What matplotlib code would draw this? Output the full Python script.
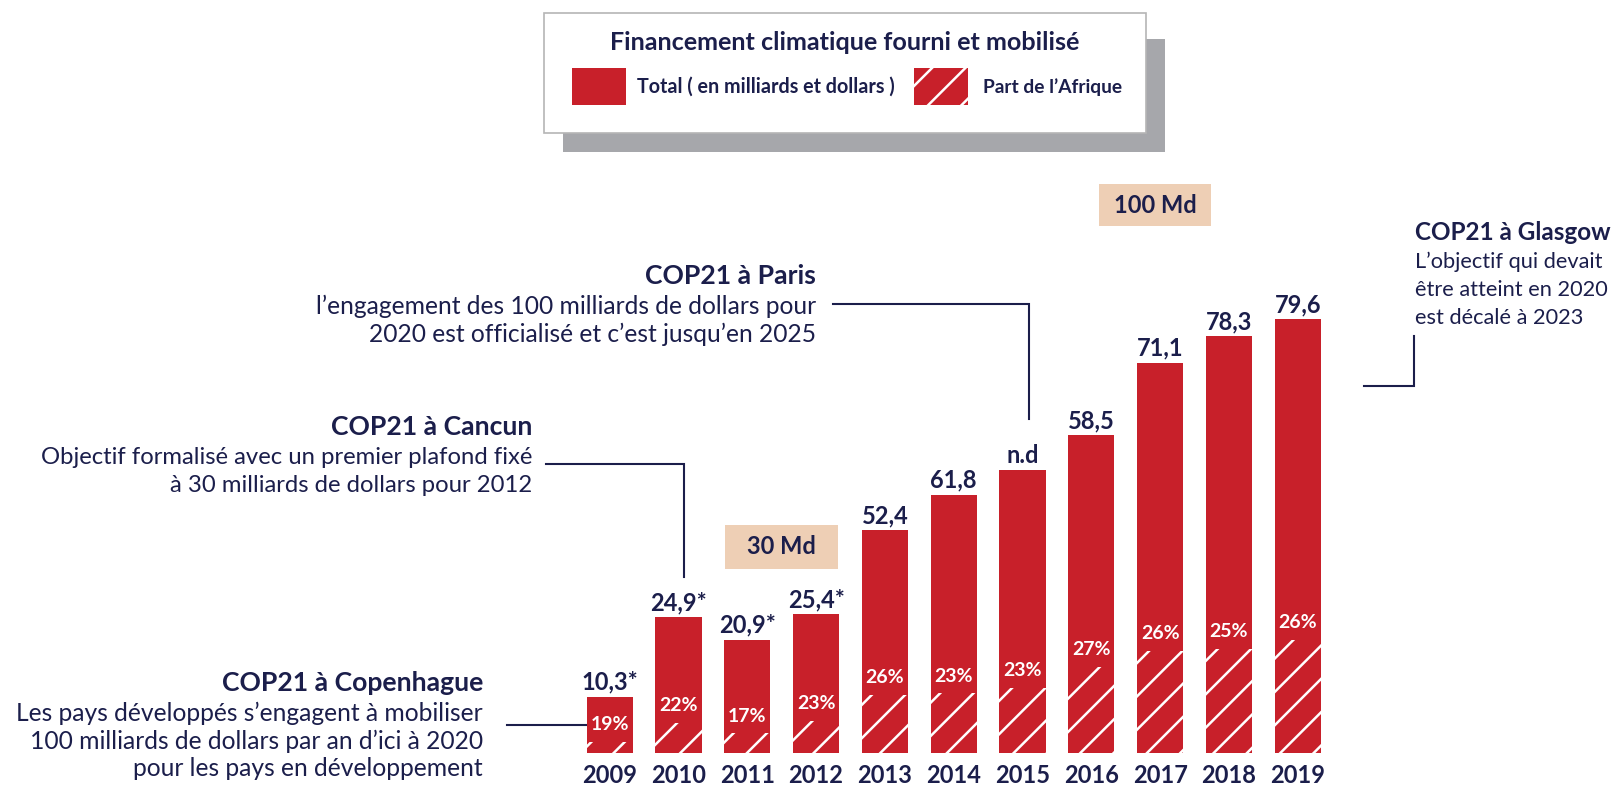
import matplotlib.pyplot as plt
from matplotlib.patches import Rectangle

# Data
years = ['2009', '2010', '2011', '2012', '2013', '2014', '2015', '2016', '2017', '2018', '2019']
value_labels = ['10,3*', '24,9*', '20,9*', '25,4*', '52,4', '61,8', 'n.d', '58,5', '71,1', '78,3', '79,6']
# bar heights as drawn in the picture (2013-2015 are not drawn to scale in the original)
bar_heights = [10.3, 24.9, 20.8, 25.5, 41.0, 47.5, 52.0, 58.5, 71.8, 76.7, 79.8]
africa_share = [19, 22, 17, 23, 26, 23, 23, 27, 26, 25, 26]

RED = '#c8202a'
NAVY = '#1b1e4b'
BEIGE = '#eecfb5'
SHADOW = '#a6a7ab'

plt.rcParams['font.family'] = ['Lato', 'DejaVu Sans']
plt.rcParams['hatch.linewidth'] = 1.8

W, H = 1621, 789
fig = plt.figure(figsize=(W / 100, H / 100), dpi=100)
renderer = fig.canvas.get_renderer()


def fit(texts, width):
    # scale font size so that the first text is about `width` pixels wide
    w = texts[0].get_window_extent(renderer).width
    size = texts[0].get_fontsize() * width / w
    for t in texts:
        t.set_fontsize(size)
    return size


# main bar axes (pixel layout of the original)
x0, x1 = 575.3, 1332.1
base, top = 752.7, 209.6
ax = fig.add_axes([x0 / W, (H - base) / H, (x1 - x0) / W, (base - top) / H])
xs = list(range(len(years)))
ax.bar(xs, bar_heights, width=0.67, color=RED, linewidth=0)
afr = [h * p / 100 for h, p in zip(bar_heights, africa_share)]
ax.bar(xs, afr, width=0.67, color=RED, edgecolor='white', hatch='/', linewidth=0)
ax.set_xlim(-0.5, 10.5)
ax.set_ylim(0, 100)

for x, h, lab in zip(xs, bar_heights, value_labels):
    ax.annotate(lab, (x, h), xytext=(0, 5), textcoords='offset points',
                ha='center', va='baseline', fontsize=17, fontweight='bold', color=NAVY)
for x, a, p in zip(xs, afr, africa_share):
    ax.annotate(f'{p}%', (x, a), xytext=(0, 12.5), textcoords='offset points',
                ha='center', va='center', fontsize=14, fontweight='bold', color='white')

ax.set_xticks(xs)
ax.set_xticklabels(years, fontsize=17, fontweight='bold', color=NAVY)
ax.tick_params(axis='x', length=0, pad=8)
ax.set_yticks([])
for s in ax.spines.values():
    s.set_visible(False)

# overlay in pixel coordinates for legend box and annotations
ov = fig.add_axes([0, 0, 1, 1])
ov.set_xlim(0, W)
ov.set_ylim(H, 0)
ov.axis('off')
ov.patch.set_alpha(0)

# legend box with shadow
ov.add_patch(Rectangle((563, 39), 602, 113, color=SHADOW, lw=0))
ov.add_patch(Rectangle((544, 13), 602, 120, facecolor='white', edgecolor='#b5b5b5', lw=1.2))
t = ov.text(845, 42, 'Financement climatique fourni et mobilisé', ha='center', va='center',
            fontsize=18, fontweight='bold', color=NAVY)
fit([t], 470)
ov.add_patch(Rectangle((572, 68), 54, 37, color=RED, lw=0))
t = ov.text(637, 87, 'Total ( en milliards et dollars )', ha='left', va='center',
            fontsize=14.5, fontweight='bold', color=NAVY)
fit([t], 258)
ov.add_patch(Rectangle((914, 68), 54, 37, facecolor=RED, edgecolor='white', hatch='/', lw=0))
t = ov.text(983, 87, 'Part de l\u2019Afrique', ha='left', va='center',
            fontsize=14.5, fontweight='bold', color=NAVY)
fit([t], 140)

# target boxes
for (bx, by, bw, bh, lab) in [(725, 525, 113, 44, '30 Md'), (1099, 184, 112, 42, '100 Md')]:
    ov.add_patch(Rectangle((bx, by), bw, bh, color=BEIGE, lw=0))
    ov.text(bx + bw / 2, by + bh / 2, lab, ha='center', va='center',
            fontsize=17, fontweight='bold', color=NAVY)

# COP annotations: title, lines, anchor x/y, alignment, max title width, first line width
notes = [
    ('COP21 à Copenhague',
     ['Les pays développés s\u2019engagent à mobiliser',
      '100 milliards de dollars par an d\u2019ici à 2020',
      'pour les pays en développement'], 483, 683, 'right', 262, 466),
    ('COP21 à Cancun',
     ['Objectif formalisé avec un premier plafond fixé',
      'à 30 milliards de dollars pour 2012'], 532, 427, 'right', 400, 493),
    ('COP21 à Paris',
     ['l\u2019engagement des 100 milliards de dollars pour',
      '2020 est officialisé et c\u2019est jusqu\u2019en 2025'], 816, 276, 'right', 400, 500),
    ('COP21 à Glasgow',
     ['L\u2019objectif qui devait', 'être atteint en 2020', 'est décalé à 2023'],
     1415, 232, 'left', 196, 188),
]
title_size = None
for title, lines, tx, ty, ha, tw, lw in notes:
    t = ov.text(tx, ty, title, ha=ha, va='center', fontsize=18.5, fontweight='bold', color=NAVY)
    if title_size is None:
        title_size = fit([t], tw)
    else:
        t.set_fontsize(title_size)
        if t.get_window_extent(renderer).width > tw:
            fit([t], tw)
    body = []
    for k, line in enumerate(lines):
        body.append(ov.text(tx, ty + 30 + 28 * k, line, ha=ha, va='center',
                            fontsize=17, color=NAVY))
    fit(body, lw)

connectors = [
    ([507, 586], [725, 725]),
    ([546, 684, 684], [464, 464, 577]),
    ([833, 1029, 1029], [304, 304, 419]),
    ([1364, 1414, 1414], [386, 386, 336]),
]
for cx, cy in connectors:
    ov.plot(cx, cy, color=NAVY, lw=1.5, solid_joinstyle='miter')

fig.savefig('out.png', dpi=100)
